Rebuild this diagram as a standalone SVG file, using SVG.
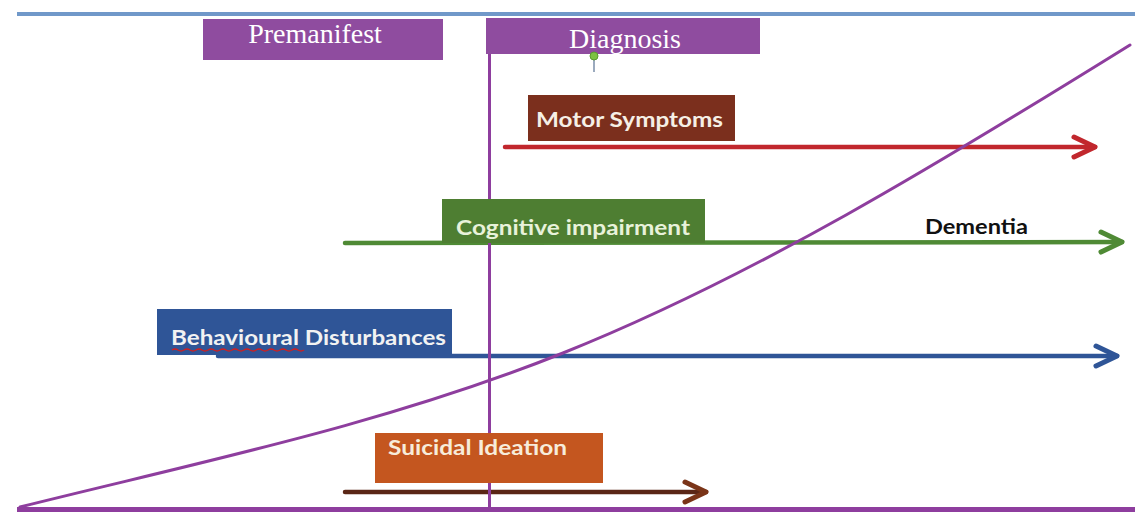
<svg xmlns="http://www.w3.org/2000/svg" width="1135" height="512" viewBox="0 0 1135 512">
<style>
.phase{fill:#8f4c9f}
.phaseText{font-family:"Liberation Serif","Times New Roman",serif;font-size:28px;fill:#ffffff;text-anchor:middle}
.lbl{font-family:Lato,"Liberation Sans",sans-serif;font-weight:700;font-size:20px}
.conn{fill:none;stroke-width:4.5;stroke-linecap:round;stroke-linejoin:round}
</style>
<defs>
<marker id="chR" markerUnits="userSpaceOnUse" markerWidth="32" markerHeight="32" refX="25" refY="14" orient="auto"><path d="M4,4 L25,14 L4,24" fill="none" stroke="#c1272d" stroke-width="5" stroke-linecap="round" stroke-linejoin="round"/></marker>
<marker id="chG" markerUnits="userSpaceOnUse" markerWidth="32" markerHeight="32" refX="25" refY="14" orient="auto"><path d="M4,4 L25,14 L4,24" fill="none" stroke="#4f8a35" stroke-width="5" stroke-linecap="round" stroke-linejoin="round"/></marker>
<marker id="chB" markerUnits="userSpaceOnUse" markerWidth="32" markerHeight="32" refX="25" refY="14" orient="auto"><path d="M4,4 L25,14 L4,24" fill="none" stroke="#2f5597" stroke-width="5" stroke-linecap="round" stroke-linejoin="round"/></marker>
<marker id="chO" markerUnits="userSpaceOnUse" markerWidth="32" markerHeight="32" refX="25" refY="14" orient="auto"><path d="M4,4 L25,14 L4,24" fill="none" stroke="#7a3418" stroke-width="5" stroke-linecap="round" stroke-linejoin="round"/></marker>
</defs>
<rect width="1135" height="512" fill="#ffffff"/>
<!-- frame lines -->
<line x1="17" y1="14" x2="1135" y2="14" stroke="#7098c9" stroke-width="4"/>
<line x1="17" y1="509.5" x2="1135" y2="509.5" stroke="#8e3e9e" stroke-width="5"/>

<g id="connectors">
<line class="conn" x1="505" y1="147" x2="1095" y2="147" stroke="#c1272d" marker-end="url(#chR)"/>
<line class="conn" x1="345" y1="243" x2="1122" y2="242" stroke="#4f8a35" marker-end="url(#chG)"/>
<line class="conn" x1="218" y1="356" x2="1117" y2="356" stroke="#2f5597" marker-end="url(#chB)"/>
<line class="conn" x1="345" y1="492" x2="706" y2="492" stroke="#5a2616" marker-end="url(#chO)"/>
</g>

<g id="premanifest">
<rect class="phase" x="203" y="19" width="240" height="41"/>
<text class="phaseText" x="315" y="43">Premanifest</text>
</g>

<g id="diagnosis">
<rect class="phase" x="486" y="18" width="274" height="36"/>
<text class="phaseText" x="625" y="48">Diagnosis</text>
<line x1="594" y1="56" x2="594" y2="72" stroke="#7a8ea8" stroke-width="1.5"/>
<circle cx="594" cy="56" r="4" fill="#7cc242" stroke="#5a9a30" stroke-width="1"/>
</g>

<g id="diagnosis-line">
<line x1="489.5" y1="54" x2="489.5" y2="510" stroke="#8e3e9e" stroke-width="3"/>
</g>

<g id="motor">
<rect x="528" y="95" width="207" height="46" fill="#7b2f1d"/>
<text class="lbl" x="536" y="127" fill="#f6efe6" textLength="187" lengthAdjust="spacingAndGlyphs">Motor Symptoms</text>
</g>

<g id="cognitive">
<rect x="442" y="199" width="263" height="44" fill="#4e7e32"/>
<text class="lbl" x="456" y="235" fill="#e8f2da" textLength="234" lengthAdjust="spacingAndGlyphs">Cognitive impairment</text>
</g>

<g id="dementia">
<text class="lbl" x="925" y="234" fill="#111111" font-size="19" textLength="103" lengthAdjust="spacingAndGlyphs">Dementia</text>
</g>

<g id="behavioural">
<rect x="157" y="309" width="295" height="46" fill="#2f5597"/>
<text class="lbl" x="171" y="345" fill="#f2f2f2" textLength="275" lengthAdjust="spacingAndGlyphs">Behavioural Disturbances</text>
<path d="M172,350 q3,-2 6,0 t6,0 t6,0 t6,0 t6,0 t6,0 t6,0 t6,0 t6,0 t6,0 t6,0 t6,0 t6,0 t6,0 t6,0 t6,0 t6,0 t6,0 t6,0 t6,0 t6,0 t6,0" fill="none" stroke="#d02020" stroke-width="1.3"/>
</g>

<g id="suicidal">
<rect x="375" y="433" width="228" height="50" fill="#c4561f"/>
<text class="lbl" x="388" y="455" fill="#f7ecda" font-size="19" textLength="179" lengthAdjust="spacingAndGlyphs">Suicidal Ideation</text>
</g>

<g id="progression-curve">
<path d="M20,507 C200,462 383,425 563,353 C753,277 940,163 1130,45" fill="none" stroke="#8e3e9e" stroke-width="3" stroke-linecap="round"/>
</g>
</svg>
